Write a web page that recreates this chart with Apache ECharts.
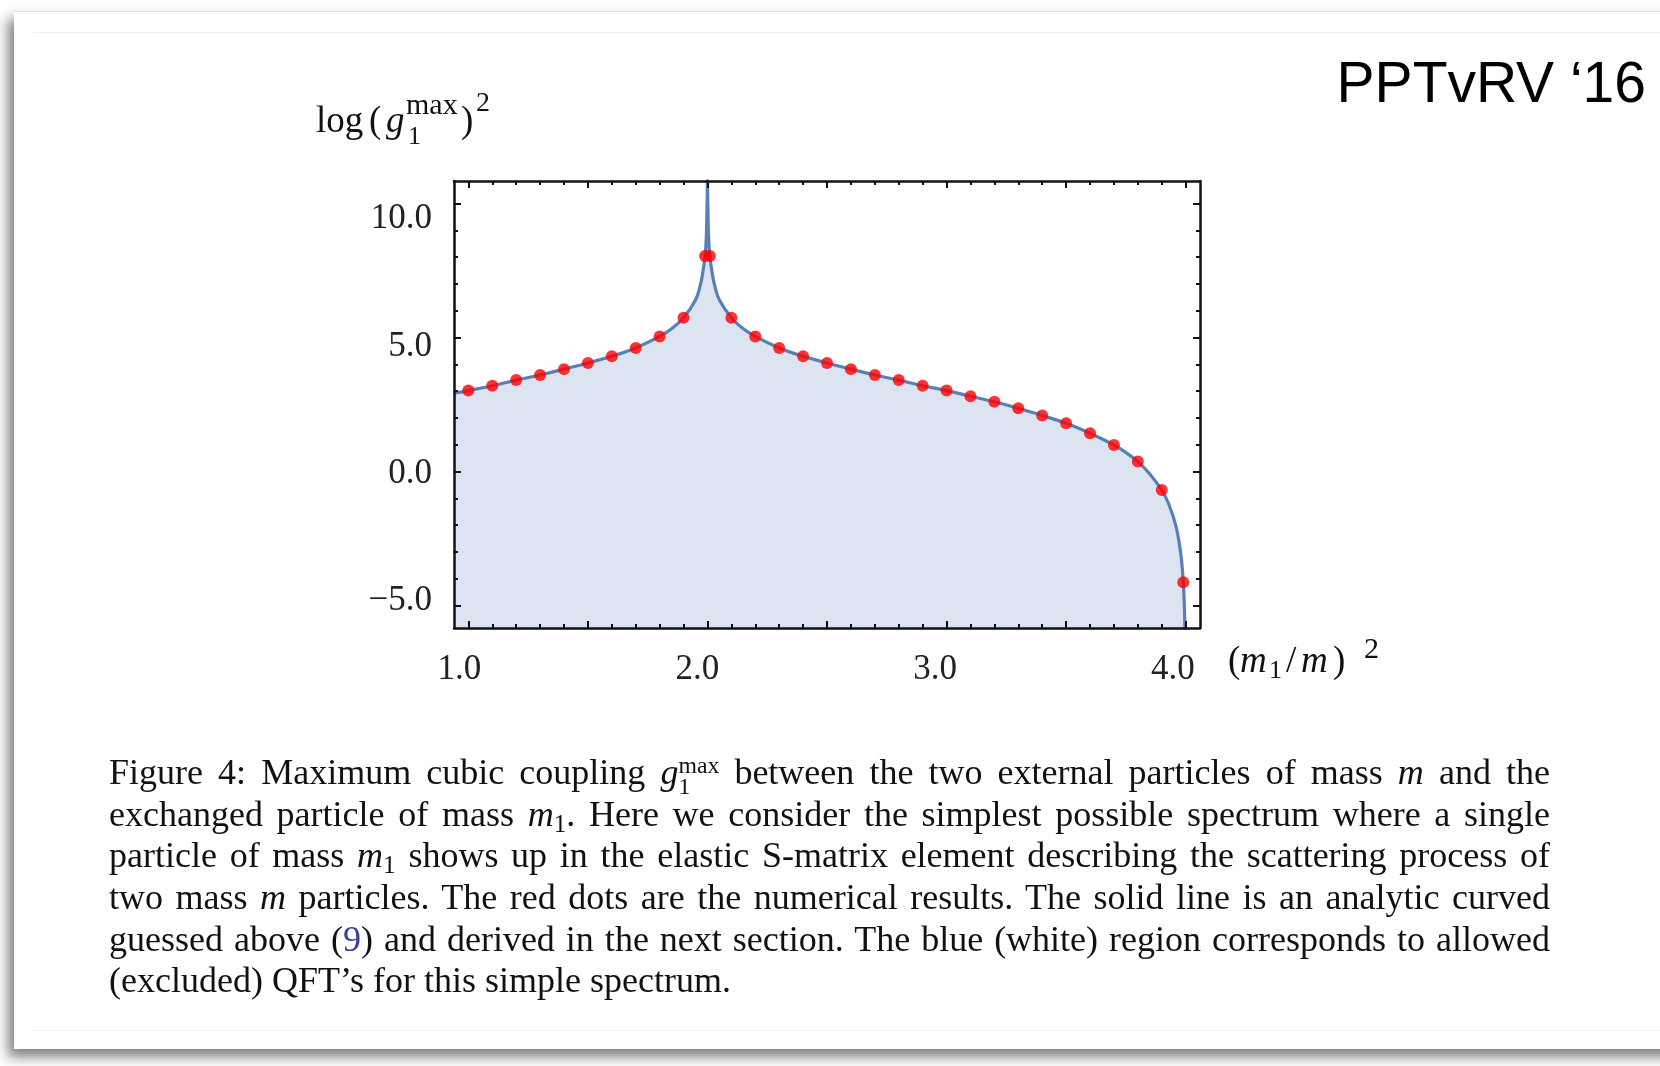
<!DOCTYPE html>
<html>
<head>
<meta charset="utf-8">
<title>Maximum cubic coupling</title>
<script src="https://cdn.jsdelivr.net/npm/echarts@6/dist/echarts.min.js"></script>
<style>
  html, body { margin: 0; padding: 0; background: #fff; }
  body { width: 1660px; height: 1066px; position: relative; overflow: hidden; }
  .slide {
    position: absolute; left: 14px; top: 11px; width: 1700px; height: 1037px;
    background: #fff; border-top: 1px solid #e2e2e2;
    box-shadow: -6px 8px 12px rgba(0, 0, 0, 0.5);
  }
  .rule { position: absolute; left: 33px; right: 0; border-top: 1px solid #efefef; }
  #chart { position: absolute; left: 0; top: 0; width: 1660px; height: 1066px; z-index: 1; }
  .caption {
    position: absolute; left: 109px; top: 752px; width: 1441px; z-index: 2;
    font-family: 'Liberation Serif', 'DejaVu Serif', serif; font-size: 36px; color: #111;
  }
  .caption .ln { height: 41.7px; line-height: 41.7px; white-space: nowrap; text-align: justify; text-align-last: justify; }
  .caption .ln.last { text-align-last: left; }
  .caption sub { font-size: 0.7em; line-height: 0; vertical-align: -0.25em; }
  .ss { display: inline-block; vertical-align: -0.42em; font-size: 0.66em; line-height: 0.9em; text-align-last: left; }
  .ss span { display: block; text-align: left; }
  .ref { color: #3d3d9e; }
</style>
</head>
<body>
<div class="slide"></div>
<div class="rule" style="top: 32px;"></div>
<div class="rule" style="top: 1030px;"></div>
<div id="chart"></div>
<div class="caption">
  <div class="ln">Figure 4: Maximum cubic coupling <i>g</i><span class="ss"><span>max</span><span>1</span></span> between the two external particles of mass <i>m</i> and the</div>
  <div class="ln">exchanged particle of mass <i>m</i><sub>1</sub>. Here we consider the simplest possible spectrum where a single</div>
  <div class="ln">particle of mass <i>m</i><sub>1</sub> shows up in the elastic S-matrix element describing the scattering process of</div>
  <div class="ln">two mass <i>m</i> particles. The red dots are the numerical results. The solid line is an analytic curved</div>
  <div class="ln">guessed above (<span class="ref">9</span>) and derived in the next section. The blue (white) region corresponds to allowed</div>
  <div class="ln last">(excluded) QFT’s for this simple spectrum.</div>
</div>
<script>
// analytic curve
const curveX = [0.94, 1.0, 1.1, 1.2, 1.3, 1.4, 1.5, 1.6, 1.7, 1.8, 1.85, 1.9, 1.95, 1.97, 1.98, 1.99, 1.995, 1.999,
  2.0, 2.001, 2.005, 2.01, 2.02, 2.03, 2.05, 2.1, 2.15, 2.2, 2.3, 2.4, 2.5, 2.6, 2.7, 2.8, 2.9, 3.0,
  3.1, 3.2, 3.3, 3.4, 3.5, 3.6, 3.7, 3.75, 3.8, 3.85, 3.9, 3.93, 3.96, 3.98, 3.99, 3.995, 3.998]
const curveY = [2.92, 3.02, 3.20, 3.41, 3.60, 3.82, 4.05, 4.30, 4.61, 5.04, 5.33, 5.74, 6.40, 6.95, 7.40, 8.04, 8.70, 10.30,
  11.50, 10.30, 8.70, 8.04, 7.40, 6.95, 6.40, 5.74, 5.33, 5.04, 4.61, 4.30, 4.05, 3.82, 3.60, 3.41, 3.20, 3.02,
  2.81, 2.60, 2.36, 2.09, 1.80, 1.43, 0.99, 0.71, 0.37, -0.09, -0.69, -1.23, -2.06, -3.10, -4.13, -5.15, -6.50]

// numerical results (red dots)
const dotX = [1.0, 1.1, 1.2, 1.3, 1.4, 1.5, 1.6, 1.7, 1.8, 1.9, 1.99, 2.01,
  2.1, 2.2, 2.3, 2.4, 2.5, 2.6, 2.7, 2.8, 2.9, 3.0, 3.1, 3.2, 3.3, 3.4, 3.5, 3.6, 3.7, 3.8, 3.9, 3.99]
const dotY = [3.02, 3.20, 3.41, 3.60, 3.82, 4.05, 4.30, 4.61, 5.04, 5.74, 8.04, 8.04,
  5.74, 5.04, 4.61, 4.30, 4.05, 3.82, 3.60, 3.41, 3.20, 3.02, 2.81, 2.60, 2.36, 2.09, 1.80, 1.43, 0.99, 0.37, -0.69, -4.13]

// ticks
const xTickLabels = [1.0, 2.0, 3.0, 4.0]
const xMajorTicks = [1.0, 1.5, 2.0, 2.5, 3.0, 3.5, 4.0]
const xMinorTicks = [1.1, 1.2, 1.3, 1.4, 1.6, 1.7, 1.8, 1.9, 2.1, 2.2, 2.3, 2.4,
  2.6, 2.7, 2.8, 2.9, 3.1, 3.2, 3.3, 3.4, 3.6, 3.7, 3.8, 3.9]
const yTickLabels = [-5, 0, 5, 10]
const yMajorTicks = [-5, 0, 5, 10]
const yMinorTicks = [-4, -3, -2, -1, 1, 2, 3, 4, 6, 7, 8, 9]

const xRange = { min: 0.94, max: 4.06 }
const yRange = { min: -5.84, max: 10.84 }
// in the source figure the tick labels sit a little off their ticks,
// so the labels get their own (slightly shifted) scales
const xLabelRange = { min: 0.977, max: 4.114 }
const yLabelRange = { min: -6.05, max: 11.49 }

const serif = "'Liberation Serif', 'DejaVu Serif', serif"
const fmt = (v) => (v < 0 ? '\u2212' : '') + Math.abs(v).toFixed(1)

const frameAxis = (pos, range, ticks, len, line) => ({
  type: 'value',
  position: pos,
  min: range.min,
  max: range.max,
  z: 5,
  axisLine: { show: line, onZero: false, lineStyle: { color: '#111', width: 2.5 } },
  axisTick: { show: true, inside: true, length: len, customValues: ticks, lineStyle: { color: '#111', width: 2 } },
  axisLabel: { show: false },
  splitLine: { show: false }
})

const labelAxis = (pos, range, labels, margin) => ({
  type: 'value',
  position: pos,
  min: range.min,
  max: range.max,
  axisLine: { show: false, onZero: false },
  axisTick: { show: false },
  splitLine: { show: false },
  axisLabel: {
    show: true, customValues: labels, formatter: fmt, margin,
    fontFamily: serif, fontSize: 35, color: '#222'
  }
})

const txt = (text, x, y, size, extra) => ({
  type: 'text', x, y, silent: true,
  style: Object.assign({ text, fontSize: size, fontFamily: serif, fill: '#111', align: 'left', verticalAlign: 'middle' }, extra)
})
const it = { fontStyle: 'italic' }

const chart = echarts.init(document.getElementById('chart'), null, { width: 1660, height: 1066 })
chart.setOption({
  animation: false,
  grid: { left: 454, top: 181, width: 746, height: 447 },
  xAxis: [
    frameAxis('bottom', xRange, xMajorTicks, 7, true),
    frameAxis('bottom', xRange, xMinorTicks, 4, false),
    frameAxis('top', xRange, xMajorTicks, 7, true),
    frameAxis('top', xRange, xMinorTicks, 4, false),
    labelAxis('bottom', xLabelRange, xTickLabels, 24)
  ],
  yAxis: [
    frameAxis('left', yRange, yMajorTicks, 7, true),
    frameAxis('left', yRange, yMinorTicks, 4, false),
    frameAxis('right', yRange, yMajorTicks, 7, true),
    frameAxis('right', yRange, yMinorTicks, 4, false),
    labelAxis('left', yLabelRange, yTickLabels, 22)
  ],
  series: [
    {
      type: 'line',
      data: curveX.map((x, i) => [x, curveY[i]]),
      showSymbol: false,
      smooth: 0.4,
      silent: true,
      z: 2,
      lineStyle: { color: '#5a7fb6', width: 3.2 },
      areaStyle: { color: '#dbe4f0', opacity: 1, origin: 'start' }
    },
    {
      type: 'scatter',
      data: dotX.map((x, i) => [x, dotY[i]]),
      symbolSize: 12,
      z: 3,
      itemStyle: { color: '#ff0000' }
    }
  ],
  graphic: [
    // y axis name: log (g_1^max)^2
    txt('log', 316, 122, 37),
    txt('(', 369, 122, 37),
    txt('g', 386, 122, 37, it),
    txt('max', 406, 106, 30),
    txt('1', 408, 137, 26),
    txt(')', 461, 122, 37),
    txt('2', 476, 104, 28),
    // x axis name: (m_1/m)^2
    txt('(', 1228, 662, 37),
    txt('m', 1240, 662, 37, it),
    txt('1', 1269, 671, 26),
    txt('/', 1286, 662, 37),
    txt('m', 1301, 662, 37, it),
    txt(')', 1333, 662, 37),
    txt('2', 1364, 650, 30),
    {
      type: 'text', x: 1646, y: 86, silent: true,
      style: {
        text: 'PPTvRV \u201816', fontSize: 57, fontFamily: "'Liberation Sans', Arial, sans-serif",
        fill: '#000', align: 'right', verticalAlign: 'middle'
      }
    }
  ]
})
</script>
</body>
</html>
